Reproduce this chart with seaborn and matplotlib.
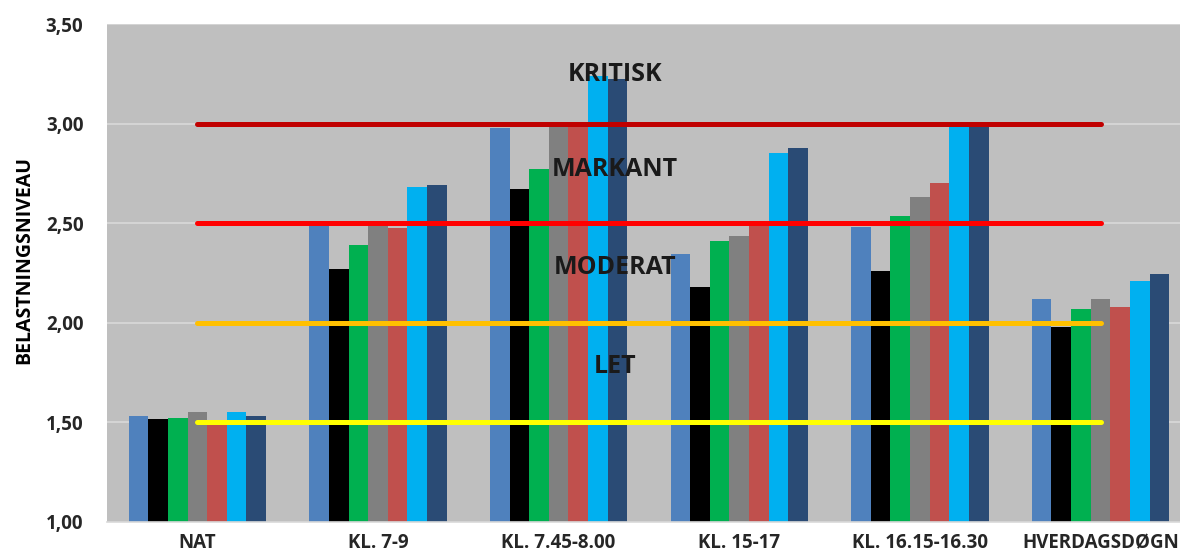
import pandas as pd
import numpy as np
import matplotlib.pyplot as plt
import seaborn as sns

# categories and series values
categories = ["NAT", "KL. 7-9", "KL. 7.45-8.00", "KL. 15-17", "KL. 16.15-16.30", "HVERDAGSDØGN"]
series_names = ["S1", "S2", "S3", "S4", "S5", "S6", "S7"]
series_colors = ["#4f81bd", "#000000", "#00b050", "#808080", "#c0504d", "#00b0f0", "#2a4b75"]

s1 = [1.53, 2.49, 2.98, 2.345, 2.48, 2.12]
s2 = [1.515, 2.27, 2.67, 2.18, 2.26, 1.98]
s3 = [1.52, 2.39, 2.77, 2.41, 2.535, 2.07]
s4 = [1.55, 2.49, 3.00, 2.435, 2.63, 2.12]
s5 = [1.50, 2.475, 3.00, 2.50, 2.70, 2.08]
s6 = [1.55, 2.68, 3.24, 2.85, 3.00, 2.21]
s7 = [1.53, 2.69, 3.225, 2.875, 3.00, 2.245]

# threshold lines and their labels
levels = [3.0, 2.5, 2.0, 1.5]
level_colors = ["#c00000", "#ff0000", "#ffc000", "#ffff00"]
zone_labels = ["KRITISK", "MARKANT", "MODERAT", "LET"]
zone_label_y = [3.245, 2.767, 2.275, 1.778]

values = [s1, s2, s3, s4, s5, s6, s7]
df = pd.DataFrame([(c, name, vals[i])
                   for name, vals in zip(series_names, values)
                   for i, c in enumerate(categories)],
                  columns=["kategori", "serie", "vaerdi"])

sns.set_theme(style="white")
plt.rcParams['font.family'] = ['Open Sans', 'DejaVu Sans']

fig = plt.figure(figsize=(11.8, 5.59), dpi=100)
ax = fig.add_axes([0.0907, 0.0667, 1 - 0.0907, 0.957 - 0.0667])
ax.set_facecolor("#bfbfbf")

sns.barplot(data=df, x="kategori", y="vaerdi", hue="serie", order=categories,
            hue_order=series_names, palette=series_colors, width=0.76,
            saturation=1, edgecolor="none", linewidth=0, ax=ax, legend=False,
            zorder=2)

for y in [1.5, 2.0, 2.5, 3.0, 3.5]:
    ax.axhline(y, color="#d9d9d9", linewidth=1.2, zorder=1)

for lv, col in zip(levels, level_colors):
    ax.plot([0, 5], [lv, lv], color=col, linewidth=3.6, solid_capstyle="round", zorder=3)

for txt, ty in zip(zone_labels, zone_label_y):
    ax.text(2.31, ty, txt, ha="center", va="center", fontsize=18,
            fontweight="bold", color="#1a1a1a", zorder=4)

ax.set_ylim(1.0, 3.5)
ax.set_xlim(-0.5, 5.44)
ax.set_yticks([1.0, 1.5, 2.0, 2.5, 3.0, 3.5])
ax.set_yticklabels(["1,00", "1,50", "2,00", "2,50", "3,00", "3,50"])
ax.tick_params(axis="y", length=0, pad=17, labelsize=13.5, labelcolor="#262626")
ax.tick_params(axis="x", length=0, pad=8, labelsize=13.5, labelcolor="#262626")
for lab in ax.get_xticklabels() + ax.get_yticklabels():
    lab.set_fontweight("bold")

ax.set_xlabel("")
ax.set_ylabel("")
fig.text(24 / 1180, 1 - 260 / 559, "BELASTNINGSNIVEAU", rotation=90, ha="center", va="center",
         fontsize=14, fontweight="bold", color="#000000")

for side in ["top", "right", "left"]:
    ax.spines[side].set_visible(False)
ax.spines["bottom"].set_color("#d9d9d9")
ax.spines["bottom"].set_linewidth(1.2)

fig.savefig("out.png", dpi=100, facecolor="white")
